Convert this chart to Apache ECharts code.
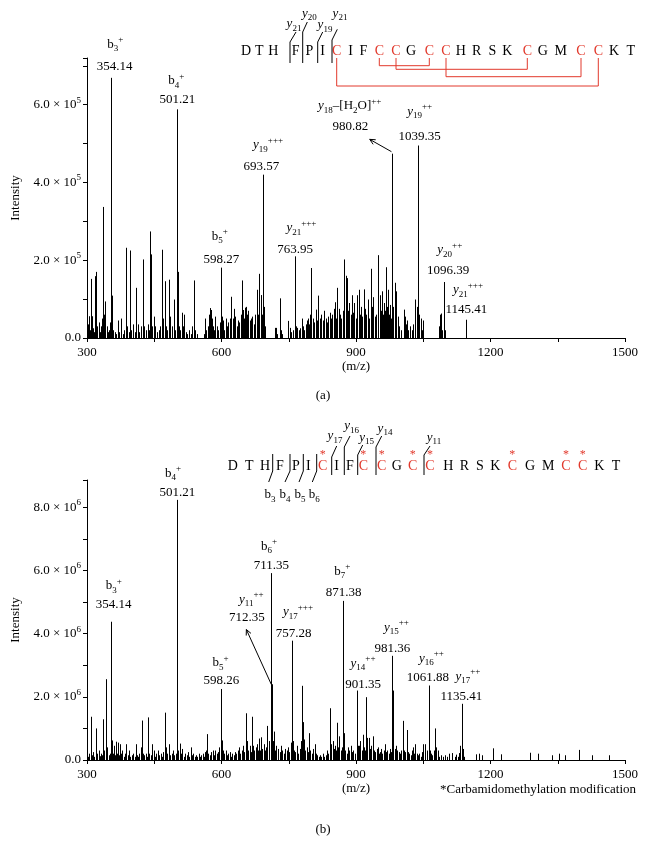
<!DOCTYPE html>
<html><head><meta charset="utf-8">
<script src="https://cdn.jsdelivr.net/npm/echarts@6/dist/echarts.min.js"></script>
<style>html,body{margin:0;padding:0;background:#fff}#c{width:646px;height:850px}</style>
</head><body><div id="c"></div>
<script>
const FONT = 'Liberation Serif';
const RED = '#e2392c';

// ---- data: [m/z, intensity] ; top intensity in units of 10^5, bottom in 10^6 ----
const topPeaks = [
[300.5,0.2],[302,0.35],[303.8,0.56],[306,0.2],[309.8,1.52],[311.5,0.56],[314,0.25],[316,0.15],[318.7,1.59],[321,1.7],
[323,0.3],[326,0.4],[328,0.15],[331,0.3],[333,0.5],[336.5,3.37],[338,0.6],[341,0.94],[344,0.3],[347,0.15],
[350,0.2],[352,0.4],[354.14,6.69],[355.8,1.09],[358,0.2],[362,0.15],[365,0.1],[369,0.45],[372,0.15],[376,0.5],
[380,0.1],[383,0.2],[387,2.32],[390,0.3],[393,0.15],[396,2.25],[399,0.2],[403,0.35],[406,0.15],[410.2,1.29],
[413,0.35],[416,0.15],[420,0.3],[424.2,2.02],[425.5,1.0],[428,0.3],[432,0.2],[436,0.35],[439,0.2],[441.4,2.74],
[442.6,2.15],[446,0.3],[449,0.55],[452,0.3],[456,0.15],[460,0.2],[463,0.3],[467.4,2.27],[469,0.5],[473.3,1.46],
[476,0.3],[479,0.2],[483,1.5],[485,0.55],[489,0.3],[493.4,0.99],[497,0.2],[501.21,5.88],[502,1.7],[505,0.3],
[508,0.2],[512,0.65],[514,0.3],[517,0.6],[520,0.15],[524,0.1],[528,0.2],[532,0.1],[535,0.3],[538.7,1.48],
[541,0.2],[545,0.1],[560,0.1],[563,0.5],[566,0.2],[569,0.3],[572,0.6],[573.7,0.77],[575.5,0.72],[578,0.5],
[581,0.3],[584,0.2],[586,0.55],[590,0.3],[593,0.2],[596,0.4],[598.27,1.81],[600,0.55],[603,0.45],[606,0.2],
[609,0.5],[612,0.3],[615,0.4],[618,0.5],[622,1.06],[625,0.5],[628,0.75],[631,0.55],[634,0.3],[637,0.45],
[640,0.4],[643,0.6],[645.8,1.48],[648,0.72],[651,0.5],[652,0.78],[654,0.8],[657,0.6],[660,0.7],[663,0.45],
[666,0.5],[669,0.55],[672,0.35],[675,0.6],[678.5,1.24],[680,0.8],[682,0.6],[684.5,1.65],[687,1.1],[689,1.1],
[691,0.6],[693.57,4.2],[695,0.8],[697,0.3],[718.7,0.26],[721,0.26],[724,0.1],[731.4,1.02],[733,0.2],[736,0.1],
[748,0.44],[752,0.26],[756,0.15],[760,0.2],[763.95,2.1],[766,0.3],[769,0.26],[772,0.2],[776,0.25],[779.6,0.5],
[782,0.3],[785,0.2],[788,0.35],[790,0.45],[793,0.5],[796,0.35],[798,0.6],[800.5,1.8],[803,0.5],[806,0.4],
[810,0.73],[813,0.45],[816,1.09],[819,0.5],[823,0.6],[826,0.45],[829,0.7],[832,0.5],[835,0.4],[838,0.55],
[841.4,0.65],[844,0.5],[847,0.6],[850,0.75],[853.3,0.92],[856,0.5],[858.6,1.29],[861,0.75],[864,0.6],[867,0.5],
[870,0.7],[874,2.02],[877,1.6],[880,1.54],[883,0.7],[885,0.9],[888,0.6],[890,1.1],[893,0.65],[896,0.9],
[899,0.5],[903,1.1],[906,1.24],[909,0.6],[911,0.8],[914,0.55],[917.6,1.25],[920,0.75],[923,0.6],[926,0.99],
[929,0.5],[933,1.78],[936,0.8],[939,1.05],[942,0.55],[945,0.6],[948,0.9],[950,2.13],[953,1.1],[955,0.7],
[958,1.2],[960,0.6],[963,0.9],[965,0.7],[967,1.82],[969,0.8],[971,1.24],[973,0.6],[975,0.85],[977,0.5],
[980.82,4.74],[983,0.8],[986.7,1.42],[988,0.6],[990,1.2],[993,0.55],[996,0.3],[1000,0.2],[1006.6,0.73],[1008,0.5],
[1010,0.55],[1012,0.35],[1014,0.45],[1017,0.2],[1021,0.3],[1025,0.2],[1028,0.35],[1032,0.99],[1035,0.8],[1037,0.4],
[1039.35,4.95],[1041,0.6],[1044,0.5],[1047,0.2],[1050,0.45],[1085,0.3],[1087,0.6],[1089,0.63],[1092,0.2],[1096.39,1.44],
[1098,0.2],[1145.41,0.47]
];

const bottomPeaks = [
[300.5,0.15],[301,0.32],[303,0.1],[305,0.2],[308.3,1.37],[310,0.6],[312,0.15],[314,0.25],[316,0.1],[319,0.5],
[321,1.0],[323,0.2],[326,0.3],[329,0.12],[332,0.2],[334,0.15],[336.5,1.29],[339,0.3],[342.4,2.56],[345,0.4],
[348,0.15],[351,0.2],[354.14,4.38],[356,0.62],[358,0.2],[361,0.45],[363,0.15],[365,0.58],[367,0.2],[369,0.55],
[371,0.15],[374,0.5],[376,0.2],[379,0.3],[382,0.1],[385,0.2],[388,0.5],[391,0.15],[394,0.3],[397,0.1],
[400,0.15],[403,0.2],[406,0.1],[408.6,0.5],[411,0.15],[414,0.1],[417,0.2],[420,0.4],[422.7,1.25],[425,0.2],
[428,0.15],[431,0.2],[434,0.1],[436,1.35],[439,0.2],[442,0.15],[446,0.5],[449,0.3],[452,0.1],[455,0.2],
[458,0.3],[461,0.15],[464,0.2],[467,0.1],[470,0.25],[473.3,1.5],[476,0.4],[479,0.2],[483,0.5],[486,0.15],
[489,0.2],[492,0.3],[495,0.15],[498,0.2],[501.21,8.24],[501.8,2.25],[504,0.3],[507,0.52],[510,0.2],[513,0.35],
[516,0.1],[519,0.2],[522,0.15],[525,0.25],[528,0.1],[531,0.4],[534,0.15],[537,0.2],[540,0.1],[543,0.15],
[546,0.1],[549,0.2],[552,0.1],[555,0.15],[558,0.2],[561,0.1],[564,0.25],[566,0.3],[568.5,0.82],[571,0.2],
[574,0.15],[577,0.25],[580,0.3],[583,0.15],[586,0.3],[589,0.2],[592,0.25],[595,0.4],[598.26,2.25],[600,0.62],
[603,0.3],[606,0.2],[609,0.3],[612,0.15],[615,0.2],[618,0.25],[621,0.1],[624,0.2],[627,0.15],[630,0.25],
[633,0.2],[636,0.3],[639,0.4],[642,0.2],[645,0.3],[648,0.45],[651,0.25],[655.5,1.48],[657,0.6],[660,0.3],
[663,0.45],[665,0.25],[668,1.37],[670,0.45],[673,0.3],[676,0.4],[679,0.5],[681,0.3],[683.7,0.68],[685,0.3],
[687,0.4],[689,0.72],[691,0.35],[694,0.5],[697,0.3],[699,0.4],[702.4,1.08],[705,0.5],[707,0.6],[709.5,3.5],
[711.35,5.92],[712.35,2.4],[714,0.6],[716,0.9],[718,0.35],[720,0.3],[722,0.45],[725,0.3],[727,0.35],[730,0.25],
[733,0.45],[736,0.3],[739,0.2],[742,0.35],[745,0.3],[748,0.4],[751,0.25],[754,0.55],[757.28,3.78],[759,0.6],
[762,0.3],[765,0.25],[768,0.45],[771,0.2],[774,0.35],[777,0.6],[780.4,2.35],[781.5,1.2],[784,0.65],[787,0.3],
[790,0.4],[792,0.25],[795,0.85],[798,0.3],[801,0.2],[804,0.35],[808,0.5],[811,0.2],[814,0.15],[817,0.1],
[820,0.15],[823,0.1],[826,0.2],[829,0.1],[832,0.15],[835,0.3],[838,0.2],[841,0.6],[843,1.64],[845,0.5],
[848,0.6],[851,0.35],[853,0.45],[855,0.3],[858,1.18],[860,0.4],[863,0.75],[866,0.3],[869,0.4],[871.38,5.04],
[873,0.85],[876,0.3],[879,0.2],[882,0.4],[885,0.3],[888,0.45],[891,0.25],[894,0.3],[897,0.2],[901.35,2.2],
[903,0.35],[905,0.45],[907,0.45],[910,0.6],[913,0.3],[915,0.8],[918,0.4],[920,0.3],[923.3,1.99],[925,0.7],
[928,0.7],[931,0.35],[934,0.45],[937,0.75],[940,0.3],[943,0.25],[946,0.35],[948,0.4],[951,0.2],[953,0.25],
[956,0.35],[959,0.2],[962,0.3],[964,0.5],[967,0.25],[970,0.3],[973,0.2],[976,0.35],[979,0.25],[981.36,3.3],
[983.5,2.2],[986,0.35],[989,0.45],[992,0.3],[995,0.25],[998,0.2],[1001,0.3],[1004,1.24],[1007,0.3],[1010,0.25],
[1013,0.95],[1016,0.25],[1019,0.2],[1022,0.15],[1025,0.3],[1027,0.4],[1030,0.2],[1032,0.5],[1035,0.2],[1038,0.15],
[1041,0.2],[1044,0.1],[1047,0.25],[1050,0.5],[1053,0.2],[1055,0.5],[1058,0.3],[1061.88,2.36],[1064,0.3],[1067,0.2],
[1070,0.15],[1073,0.3],[1076,1.0],[1079,0.4],[1083,0.3],[1086,0.1],[1090,0.15],[1094,0.1],[1098,0.15],[1103,0.1],
[1108,0.2],[1115,0.22],[1120,0.1],[1124,0.17],[1127,0.1],[1130,0.22],[1133,0.45],[1135.41,1.78],[1138,0.35],[1141,0.1],
[1168.5,0.18],[1174,0.2],[1181,0.15],[1206.6,0.37],[1223,0.18],[1287.7,0.23],[1305,0.2],[1338,0.15],[1353,0.2],[1367,0.15],
[1396.6,0.32],[1426,0.15],[1464,0.15]
];

// annotated ions
const topAnnMz = [354.14, 501.21, 598.27, 693.57, 763.95, 980.82, 1039.35, 1096.39, 1145.41];
const topAnnIon = ['{n|b}{s|3}{p|+}','{n|b}{s|4}{p|+}','{n|b}{s|5}{p|+}','{i|y}{s|19}{p|+++}','{i|y}{s|21}{p|+++}',
  '{i|y}{s|18}{n|–[H}{s|2}{n|O]}{p|++}','{i|y}{s|19}{p|++}','{i|y}{s|20}{p|++}','{i|y}{s|21}{p|+++}'];
const bottomAnnMz = [354.14, 501.21, 598.26, 711.35, 712.35, 757.28, 871.38, 901.35, 981.36, 1061.88, 1135.41];
const bottomAnnIon = ['{n|b}{s|3}{p|+}','{n|b}{s|4}{p|+}','{n|b}{s|5}{p|+}','{n|b}{s|6}{p|+}','{i|y}{s|11}{p|++}',
  '{i|y}{s|17}{p|+++}','{n|b}{s|7}{p|+}','{i|y}{s|14}{p|++}','{i|y}{s|15}{p|++}','{i|y}{s|16}{p|++}','{i|y}{s|17}{p|++}'];

const peptide = ['D','T','H','F','P','I','C','I','F','C','C','G','C','C','H','R','S','K','C','G','M','C','C','K','T'];
const topFragLabels = ['21','20','19','21'];
const bottomYFragLabels = ['17','16','15','14','11'];
const bottomBFragLabels = ['3','4','5','6'];
const xAxisName = '(m/z)';
const yAxisName = 'Intensity';
const captions = ['(a)', '(b)'];
const footnote = '*Carbamidomethylation modification';

// ---- layout (pixel offsets relative to peak tip) ----
const topAnnLayout = [[4,-33.3,3.4,-11],[-0.8,-28.3,0.2,-10],[-1,-31.3,0.7,-8],[4.6,-30,-2,-8.3],[6.4,-28.4,0,-6.7],
  [-42.5,-47.6,-41.8,-26.6],[1.2,-34.3,1.2,-9.3],[5.7,-32.3,4,-11.3],[2,-30,0.4,-10]];
const topArrows = {5: [-0.8,-2,-22.5,-14.3]};
const bottomAnnLayout = [[2.4,-36,2.4,-16.7],[-4.2,-26.7,0.2,-7.3],[-0.3,-26.3,0.7,-8.3],[-2.4,-26.6,0,-7.6],
  [-20.5,-84.7,-24.9,-66.3],[6,-29,1.7,-7.4],[-0.8,-29.3,0.5,-8.3],[6.4,-27.4,6.4,-6.4],[3.9,-28.7,-0.1,-7.7],
  [2.8,-27.4,-0.6,-8.4],[6.4,-27.3,-0.2,-7.3]];
const bottomArrows = {4: [-0.5,0.3,-25.5,-54.7]};

const rich = {
  n: {fontFamily: FONT, fontSize: 13, lineHeight: 18, fill: '#000', color: '#000'},
  i: {fontFamily: FONT, fontSize: 13, fontStyle: 'italic', lineHeight: 18, fill: '#000', color: '#000'},
  s: {fontFamily: FONT, fontSize: 9, lineHeight: 9, verticalAlign: 'bottom', fill: '#000', color: '#000'},
  p: {fontFamily: FONT, fontSize: 9, lineHeight: 9, verticalAlign: 'top', fill: '#000', color: '#000'}
};

function lookup(peaks, mz) { const p = peaks.find(d => d[0] === mz); return p ? p[1] : 0; }

function stemRender(params, api) {
  const mz = api.value(0), v = api.value(1);
  const a = api.coord([mz, 0]), b = api.coord([mz, v]);
  const x = Math.round(a[0]) + 0.5;
  return {type: 'line', silent: true, shape: {x1: x, y1: a[1], x2: x, y2: b[1]}, style: {stroke: '#000', lineWidth: 1}};
}

function annRenderFactory(ions, layout, arrows) {
  return function (params, api) {
    const k = params.dataIndex;
    const mz = api.value(0), v = api.value(1);
    const p = api.coord([mz, v]);
    const L = layout[k];
    const children = [
      {type: 'text', silent: true, x: p[0] + L[0], y: p[1] + L[1],
        style: {text: ions[k], rich: rich, align: 'center', verticalAlign: 'middle', fill: '#000'}},
      {type: 'text', silent: true, x: p[0] + L[2], y: p[1] + L[3],
        style: {text: mz.toFixed(2), font: '13px ' + FONT, align: 'center', verticalAlign: 'middle', fill: '#000'}}
    ];
    const A = arrows[k];
    if (A) {
      const x1 = p[0] + A[0], y1 = p[1] + A[1], x2 = p[0] + A[2], y2 = p[1] + A[3];
      const ang = Math.atan2(y1 - y2, x1 - x2), h = 6, w = 0.45;
      children.push({type: 'line', silent: true, shape: {x1, y1, x2, y2}, style: {stroke: '#000', lineWidth: 1}});
      children.push({type: 'polyline', silent: true, shape: {points: [
        [x2 + h * Math.cos(ang + w), y2 + h * Math.sin(ang + w)], [x2, y2],
        [x2 + h * Math.cos(ang - w), y2 + h * Math.sin(ang - w)]]}, style: {stroke: '#000', lineWidth: 1, fill: null}});
    }
    return {type: 'group', children};
  };
}

function xAxis(gi) {
  return {type: 'value', gridIndex: gi, min: 300, max: 1500, interval: 150,
    name: xAxisName, nameLocation: 'middle', nameGap: 22,
    nameTextStyle: {fontFamily: FONT, fontSize: 13, color: '#000'},
    axisLine: {lineStyle: {color: '#000', width: 1}},
    axisTick: {length: 4, lineStyle: {color: '#000'}},
    axisLabel: {fontFamily: FONT, fontSize: 13, color: '#000', margin: 8, formatter: v => (v % 300 === 0 ? String(v) : '')},
    splitLine: {show: false}};
}
function yAxis(gi, max, exp) {
  return {type: 'value', gridIndex: gi, min: 0, max: max, interval: 1,
    name: yAxisName, nameLocation: 'middle', nameGap: 65,
    nameTextStyle: {fontFamily: FONT, fontSize: 13, color: '#000'},
    axisLine: {show: true, lineStyle: {color: '#000', width: 1}},
    axisTick: {show: true, length: 4, lineStyle: {color: '#000'}},
    axisLabel: {margin: 6, color: '#000', fontFamily: FONT, fontSize: 13,
      formatter: v => (v === 0 ? '{m|0.0}' : (v % 2 === 0 ? '{m|' + v.toFixed(1) + ' × 10}{e|' + exp + '}' : '')),
      rich: {m: {fontFamily: FONT, fontSize: 13, lineHeight: 18, color: '#000'},
             e: {fontFamily: FONT, fontSize: 9, lineHeight: 9, verticalAlign: 'top', color: '#000'}}},
    splitLine: {show: false}};
}

// ---- peptide sequence graphics ----
const G = [];
function txt(x, y, text, opts) {
  G.push(Object.assign({type: 'text', x, y, silent: true, style: Object.assign({text, font: '14px ' + FONT, fill: '#000',
    align: 'center', verticalAlign: 'middle', textAlign: 'center', textVerticalAlign: 'middle'}, opts || {})}));
}
function rtxt(x, y, text) {
  G.push({type: 'text', x, y, silent: true, style: {text, rich: rich, fill: '#000', align: 'center', verticalAlign: 'middle'}});
}
function pl(points, color) {
  G.push({type: 'polyline', silent: true, shape: {points}, style: {stroke: color || '#000', lineWidth: 1, fill: null}});
}
const topLetterX = [246,259.3,273.3,295.7,309.3,322.7,336.7,350.7,363.3,379.3,396,411,429.3,446,460.7,476.7,492.3,507.3,527.3,542.7,560.7,581,598.3,614,630.7];
const botLetterX = [232.7,249.3,265,280,296,308.3,322.7,336.7,350,363.3,381.7,396.7,412.7,430,448.3,464.3,480,495.3,512.3,530,548.3,566,582.7,599.3,616];
peptide.forEach((c, k) => {
  txt(topLetterX[k], 51, c, {fill: c === 'C' ? RED : '#000'});
  txt(botLetterX[k], 466, c, {fill: c === 'C' ? RED : '#000'});
  if (c === 'C') txt(botLetterX[k], 455, '*', {fill: RED, font: '12px ' + FONT});
});
// disulfide bridges (top)
[[9, 12, 65.7], [10, 18, 69.3], [13, 21, 76.7], [6, 22, 86]].forEach(b => {
  const xa = topLetterX[b[0]], xb = topLetterX[b[1]];
  pl([[xa, 58], [xa, b[2]], [xb, b[2]], [xb, 58]], RED);
});
// top y-fragment markers
[[290, 42, 296, 32, 294, 24], [302.7, 32, 307.3, 22, 309.3, 13.3], [317.7, 42, 322.7, 32, 325, 25], [332, 40, 337.3, 29.3, 340, 13.3]]
  .forEach((m, k) => { pl([[m[0], 63], [m[0], m[1]], [m[2], m[3]]]); rtxt(m[4], m[5], '{i|y}{s|' + topFragLabels[k] + '}'); });
// bottom y-fragment markers
[[331.7, 457, 336.7, 446, 335, 435.7], [344.3, 447, 350, 436, 351.7, 425.7], [357.7, 455, 362.7, 445, 366.7, 437.3],
 [376, 447, 381.7, 436, 385, 428.3], [424, 455, 430, 446, 434, 437.3]]
  .forEach((m, k) => { pl([[m[0], 475], [m[0], m[1]], [m[2], m[3]]]); rtxt(m[4], m[5], '{i|y}{s|' + bottomYFragLabels[k] + '}'); });
// bottom b-fragment markers
[[272.7, 268.7, 270], [290, 285, 285], [303.3, 299, 300], [316.7, 312.3, 314.3]]
  .forEach((m, k) => { pl([[m[0], 454], [m[0], 471], [m[1], 482]]); rtxt(m[2], 495, '{n|b}{s|' + bottomBFragLabels[k] + '}'); });
txt(323, 396, captions[0], {font: '13px ' + FONT});
txt(323, 830, captions[1], {font: '13px ' + FONT});
txt(636, 790, footnote, {font: '13px ' + FONT, align: 'right', textAlign: 'right'});

const chart = echarts.init(document.getElementById('c'), null, {renderer: 'canvas'});
chart.setOption({
  animation: false,
  backgroundColor: '#fff',
  grid: [{left: 87, right: 21, top: 58, height: 280}, {left: 87, right: 21, top: 480, height: 280}],
  xAxis: [xAxis(0), xAxis(1)],
  yAxis: [yAxis(0, 7.2, 5), yAxis(1, 8.87, 6)],
  series: [
    {type: 'custom', xAxisIndex: 0, yAxisIndex: 0, data: topPeaks, encode: {x: 0, y: 1}, renderItem: stemRender, silent: true},
    {type: 'custom', xAxisIndex: 1, yAxisIndex: 1, data: bottomPeaks, encode: {x: 0, y: 1}, renderItem: stemRender, silent: true},
    {type: 'custom', xAxisIndex: 0, yAxisIndex: 0, clip: false, silent: true, encode: {x: 0, y: 1},
      data: topAnnMz.map(m => [m, lookup(topPeaks, m)]), renderItem: annRenderFactory(topAnnIon, topAnnLayout, topArrows), z: 5},
    {type: 'custom', xAxisIndex: 1, yAxisIndex: 1, clip: false, silent: true, encode: {x: 0, y: 1},
      data: bottomAnnMz.map(m => [m, lookup(bottomPeaks, m)]), renderItem: annRenderFactory(bottomAnnIon, bottomAnnLayout, bottomArrows), z: 5}
  ],
  graphic: {elements: G}
});
</script></body></html>
